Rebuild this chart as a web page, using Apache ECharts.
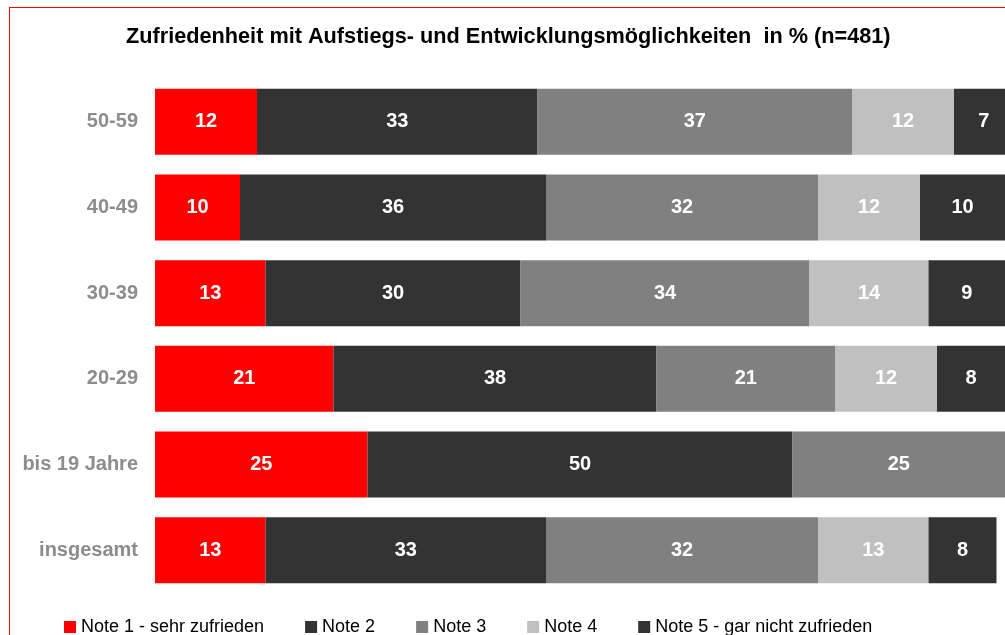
<!DOCTYPE html>
<html>
<head>
<meta charset="utf-8">
<script src="https://cdn.jsdelivr.net/npm/echarts@6/dist/echarts.min.js"></script>
<style>
  html, body { margin: 0; padding: 0; background: #fff; }
  #wrap { position: relative; width: 1005px; height: 635px; overflow: hidden; }
  #chart { width: 1005px; height: 635px; }
  #frame { position: absolute; left: 9px; top: 7px; width: 1100px; height: 700px;
           border-left: 1px solid #ff0000; border-top: 1px solid #ff0000; pointer-events: none; }
</style>
</head>
<body>
<div id="wrap">
  <div id="chart"></div>
  <div id="frame"></div>
</div>
<script>
"use strict";
// Kategorien (von oben nach unten)
var categories = ['50-59', '40-49', '30-39', '20-29', 'bis 19 Jahre', 'insgesamt'];
var seriesNames = ['Note 1 - sehr zufrieden', 'Note 2', 'Note 3', 'Note 4', 'Note 5 - gar nicht zufrieden'];
var note1 = [12, 10, 13, 21, 25, 13];
var note2 = [33, 36, 30, 38, 50, 33];
var note3 = [37, 32, 34, 21, 25, 32];
var note4 = [12, 12, 14, 12, 0, 13];
var note5 = [7, 10, 9, 8, 0, 8];
var colors = ['#ff0000', '#333333', '#808080', '#c0c0c0', '#333333'];

var myChart = echarts.init(document.getElementById('chart'));
var allData = [note1, note2, note3, note4, note5];

var series = allData.map(function (d, i) {
    return {
        name: seriesNames[i],
        type: 'bar',
        stack: 'total',
        barCategoryGap: '23%',
        clip: false,
        itemStyle: { color: colors[i] },
        label: {
            show: true,
            position: 'inside',
            color: '#fff',
            fontFamily: 'Liberation Sans',
            fontWeight: 'bold',
            fontSize: 20,
            formatter: function (p) { return p.value > 0 ? p.value : ''; }
        },
        data: d
    };
});

var option = {
    animation: false,
    title: {
        text: 'Zufriedenheit mit Aufstiegs- und Entwicklungsmöglichkeiten  in % (n=481)',
        left: 121,
        top: 21,
        textStyle: { fontFamily: 'Liberation Sans', fontWeight: 'bold', fontSize: 21.7, color: '#000' }
    },
    legend: {
        data: seriesNames,
        left: 59,
        top: 613,
        itemWidth: 12,
        itemHeight: 12,
        itemGap: 41,
        icon: 'rect',
        textStyle: { fontFamily: 'Liberation Sans', fontSize: 18, color: '#000' }
    },
    grid: { left: 155, right: 0, top: 79, bottom: 42, containLabel: false },
    xAxis: { type: 'value', min: 0, max: 100, show: false },
    yAxis: {
        type: 'category',
        inverse: true,
        data: categories,
        axisLine: { show: false },
        axisTick: { show: false },
        axisLabel: {
            margin: 17,
            color: '#8c8c8c',
            fontFamily: 'Liberation Sans',
            fontWeight: 'bold',
            fontSize: 20
        }
    },
    series: series
};

myChart.setOption(option);
</script>
</body>
</html>
